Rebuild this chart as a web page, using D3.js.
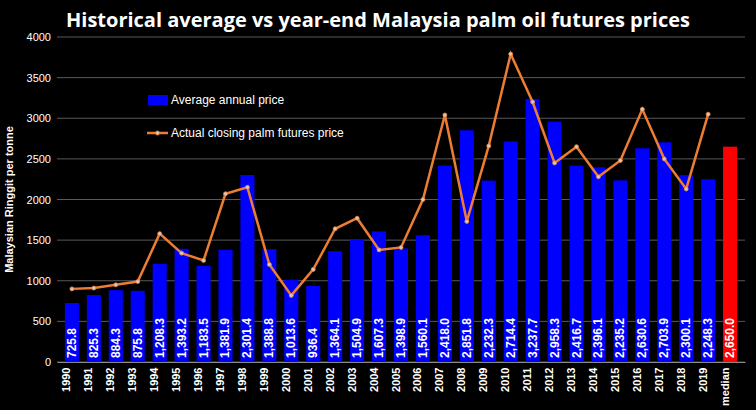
<!DOCTYPE html>
<html><head><meta charset="utf-8">
<script src="https://cdn.jsdelivr.net/npm/d3@7"></script>
<style>body{margin:0;background:#000}svg{display:block}</style>
</head><body><div id="chart"></div>
<script>
// Data
const years = ["1990","1991","1992","1993","1994","1995","1996","1997","1998","1999","2000","2001","2002","2003","2004","2005","2006","2007","2008","2009","2010","2011","2012","2013","2014","2015","2016","2017","2018","2019","median"];
const avgPrice = [725.8,825.3,884.3,875.8,1208.3,1393.2,1183.5,1381.9,2301.4,1388.8,1013.6,936.4,1364.1,1504.9,1607.3,1398.9,1560.1,2418.0,2851.8,2232.3,2714.4,3237.7,2958.3,2416.7,2396.1,2235.2,2630.6,2703.9,2300.1,2248.3,2650.0];
const closePrice = [900,910,950,990,1580,1340,1250,2070,2150,1200,820,1140,1640,1770,1380,1410,2000,3040,1730,2660,3790,3200,2450,2650,2280,2480,3110,2500,2130,3050];
const yTicks = [0,500,1000,1500,2000,2500,3000,3500,4000];

const W = 756, H = 410;
const margin = { top: 37, right: 11, bottom: 48, left: 57 };
const width = W - margin.left - margin.right, height = H - margin.top - margin.bottom;

const svg = d3.select("#chart").append("svg").attr("width", W).attr("height", H)
    .style("background", "#000");
const g = svg.append("g").attr("transform", `translate(${margin.left},${margin.top})`);

const x = d3.scaleBand().domain(years).range([0, width]).padding(0.36);
const y = d3.scaleLinear().domain([0, 4000]).range([height, 0]);

// Title
svg.append("text").attr("x", W / 2).attr("y", 27).attr("text-anchor", "middle")
    .attr("fill", "#fff").style("font", "bold 20px 'Open Sans', sans-serif")
    .text("Historical average vs year-end Malaysia palm oil futures prices");

// Gridlines
g.selectAll(".grid").data(yTicks).enter().append("line")
    .attr("x1", 0).attr("x2", width).attr("y1", d => y(d)).attr("y2", d => y(d))
    .attr("stroke", "#595959").attr("stroke-width", 1);

// Y axis
const yAxis = g.append("g").call(d3.axisLeft(y).tickValues(yTicks).tickFormat(d3.format("d")).tickSize(0).tickPadding(6));
yAxis.select(".domain").remove();
yAxis.selectAll("text").attr("fill", "#fff").style("font", "11px 'Liberation Sans', Arial, sans-serif");

svg.append("text").attr("transform", `translate(13,${margin.top + height / 2}) rotate(-90)`)
    .attr("text-anchor", "middle").attr("fill", "#fff")
    .style("font", "bold 11px 'Liberation Sans', Arial, sans-serif")
    .text("Malaysian Ringgit per tonne");

// X axis
const xAxis = g.append("g").attr("transform", `translate(0,${height})`)
    .call(d3.axisBottom(x).tickSize(0).tickPadding(4));
xAxis.select(".domain").attr("stroke", "#888");
xAxis.selectAll("text").attr("fill", "#fff")
    .style("font", "bold 11px 'Liberation Sans', Arial, sans-serif")
    .attr("text-anchor", "end").attr("dx", "-0.5em").attr("dy", "-0.5em")
    .attr("transform", "rotate(-90)");

// Bars
g.selectAll(".bar").data(avgPrice).enter().append("rect")
    .attr("x", (d, i) => x(years[i])).attr("width", x.bandwidth())
    .attr("y", d => y(d)).attr("height", d => height - y(d))
    .attr("fill", (d, i) => years[i] === "median" ? "#ff0000" : "#0000ff");

// Bar labels
g.selectAll(".lbl").data(avgPrice).enter().append("text")
    .attr("transform", (d, i) => `translate(${x(years[i]) + x.bandwidth() / 2 + 4},${height - 4}) rotate(-90)`)
    .attr("fill", "#fff").style("font", "bold 12px 'Liberation Sans', Arial, sans-serif")
    .text(d => d3.format(",.1f")(d));

// Closing price line
const line = d3.line().x((d, i) => x(years[i]) + x.bandwidth() / 2).y(d => y(d));
g.append("path").datum(closePrice).attr("d", line).attr("fill", "none")
    .attr("stroke", "#ed7d31").attr("stroke-width", 2.5);
g.selectAll(".pt").data(closePrice).enter().append("circle")
    .attr("cx", (d, i) => x(years[i]) + x.bandwidth() / 2).attr("cy", d => y(d))
    .attr("r", 2).attr("fill", "#ccc").attr("stroke", "#ed7d31").attr("stroke-width", 0.8);

// Legend
svg.append("rect").attr("x", 148).attr("y", 95).attr("width", 20).attr("height", 10).attr("fill", "#0000ff");
svg.append("text").attr("x", 171).attr("y", 104).attr("fill", "#fff")
    .style("font", "12px 'Liberation Sans', Arial, sans-serif").text("Average annual price");
svg.append("line").attr("x1", 147).attr("x2", 168).attr("y1", 133).attr("y2", 133)
    .attr("stroke", "#ed7d31").attr("stroke-width", 2.5);
svg.append("circle").attr("cx", 157.5).attr("cy", 133).attr("r", 2).attr("fill", "#ccc").attr("stroke", "#ed7d31");
svg.append("text").attr("x", 171).attr("y", 137).attr("fill", "#fff")
    .style("font", "12px 'Liberation Sans', Arial, sans-serif").text("Actual closing palm futures price");
</script>
</body></html>
